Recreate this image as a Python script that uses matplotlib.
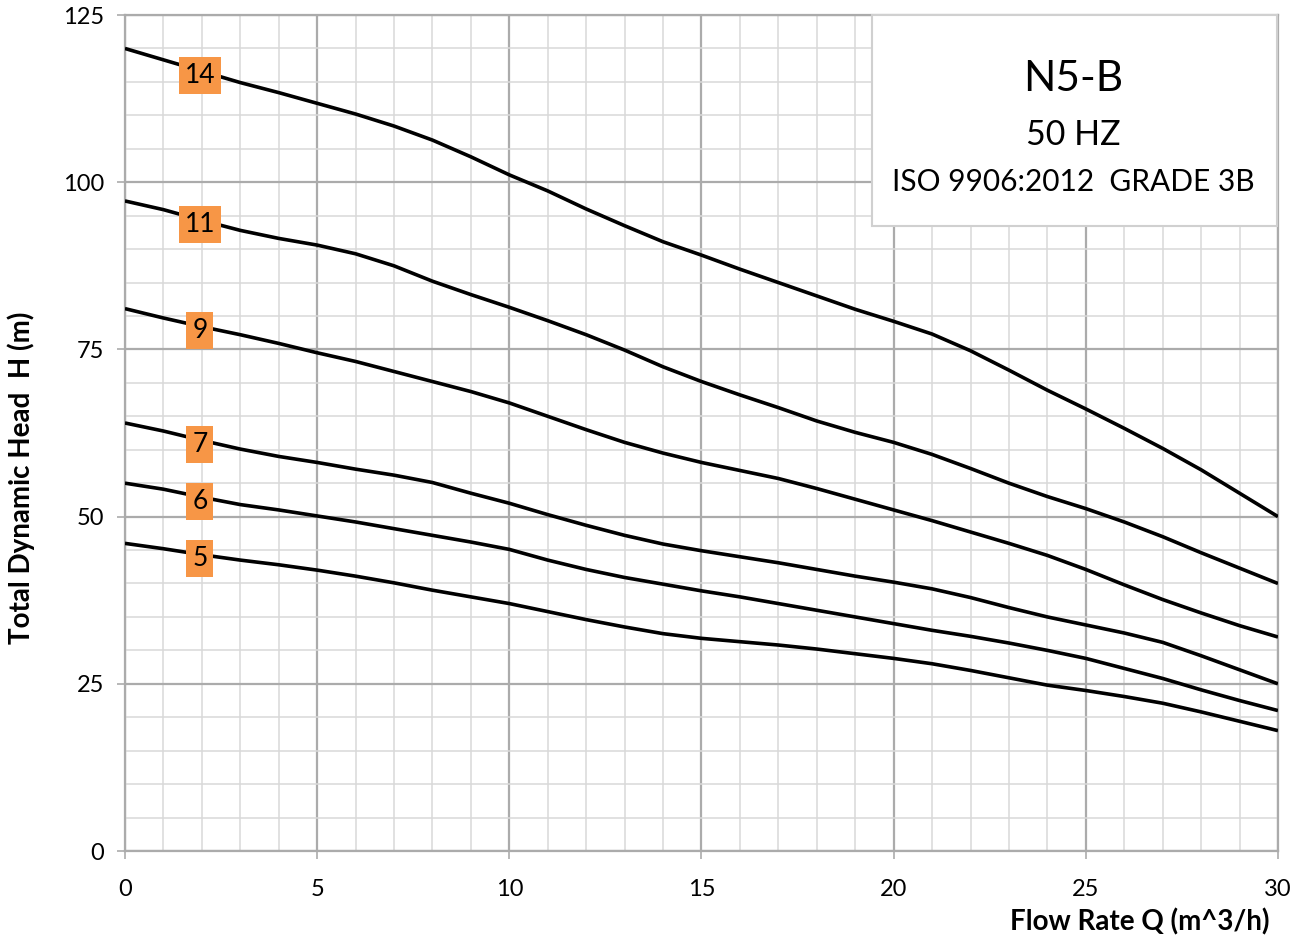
"""Pump performance curves N5-B, 50 Hz: total dynamic head vs flow rate."""

import matplotlib
matplotlib.use("Agg")
import matplotlib.pyplot as plt
from matplotlib.ticker import MultipleLocator

plt.rcParams["font.family"] = ["Lato", "DejaVu Sans"]

# --- Data (flow in m^3/h, head in m) ---
flow = [0, 1, 2, 3, 4, 5, 6, 7, 8, 9, 10, 11, 12, 13, 14, 15,
        16, 17, 18, 19, 20, 21, 22, 23, 24, 25, 26, 27, 28, 29, 30]

head_14 = [120.0, 118.3, 116.6, 114.9, 113.4, 111.8, 110.2, 108.4, 106.3, 103.8,
           101.1, 98.7, 96.0, 93.5, 91.1, 89.1, 87.0, 85.0, 83.0, 81.0,
           79.2, 77.3, 74.8, 71.9, 68.9, 66.1, 63.2, 60.2, 57.0, 53.5, 50.0]
head_11 = [97.2, 95.9, 94.3, 92.8, 91.6, 90.6, 89.3, 87.5, 85.2, 83.2,
           81.3, 79.3, 77.2, 74.9, 72.4, 70.2, 68.2, 66.3, 64.3, 62.6,
           61.1, 59.3, 57.2, 55.0, 53.0, 51.2, 49.2, 47.0, 44.6, 42.3, 40.0]
head_9 = [81.1, 79.7, 78.4, 77.2, 75.9, 74.5, 73.2, 71.7, 70.2, 68.7,
          67.0, 65.0, 63.0, 61.1, 59.5, 58.1, 56.9, 55.7, 54.2, 52.6,
          51.0, 49.4, 47.7, 46.0, 44.2, 42.1, 39.8, 37.6, 35.6, 33.7, 32.0]
head_7 = [64.0, 62.8, 61.4, 60.1, 59.0, 58.1, 57.1, 56.2, 55.1, 53.5,
          52.0, 50.3, 48.7, 47.2, 45.9, 44.9, 44.0, 43.1, 42.1, 41.1,
          40.2, 39.2, 37.9, 36.4, 35.0, 33.8, 32.6, 31.2, 29.2, 27.1, 25.0]
head_6 = [55.0, 54.1, 52.9, 51.8, 51.0, 50.1, 49.2, 48.2, 47.2, 46.2,
          45.1, 43.5, 42.1, 40.9, 39.9, 38.9, 38.0, 37.0, 36.0, 35.0,
          34.0, 33.0, 32.1, 31.1, 30.0, 28.8, 27.3, 25.8, 24.1, 22.5, 21.0]
head_5 = [46.0, 45.2, 44.3, 43.5, 42.8, 42.0, 41.1, 40.1, 39.0, 38.0,
          37.0, 35.8, 34.6, 33.5, 32.5, 31.8, 31.3, 30.8, 30.2, 29.5,
          28.8, 28.0, 27.0, 25.9, 24.8, 24.0, 23.1, 22.1, 20.8, 19.4, 18.0]

stages = ["14", "11", "9", "7", "6", "5"]
curves = [head_14, head_11, head_9, head_7, head_6, head_5]
label_flow = 2  # stage tags sit on each curve at Q = 2

title_lines = ["N5-B", "50 HZ", "ISO 9906:2012  GRADE 3B"]

# --- Plot ---
fig = plt.figure(figsize=(13.03, 9.39), dpi=100)
ax = fig.add_axes([0.0959, 0.0937, 0.8849, 0.8903])

for name, h in zip(stages, curves):
    ax.plot(flow, h, color="black", linewidth=2.6, solid_capstyle="butt",
            zorder=3)
    ax.text(label_flow - 0.05, h[flow.index(label_flow)] - 0.6, name,
            fontsize=19, ha="center", va="center", zorder=5,
            bbox=dict(boxstyle="square,pad=0.22", facecolor="#F79646",
                      edgecolor="none"))

ax.set_xlim(0, 30)
ax.set_ylim(0, 125)
ax.xaxis.set_major_locator(MultipleLocator(5))
ax.xaxis.set_minor_locator(MultipleLocator(1))
ax.yaxis.set_major_locator(MultipleLocator(25))
ax.yaxis.set_minor_locator(MultipleLocator(5))

ax.grid(which="minor", color="#D9D9D9", linewidth=1.1, zorder=0)
ax.grid(which="major", color="#ABABAB", linewidth=1.6, zorder=1)
ax.set_axisbelow(True)

for s in ax.spines.values():
    s.set_color("#ABABAB")
    s.set_linewidth(1.6)

ax.tick_params(which="major", direction="out", length=6, width=1.2,
               color="#ABABAB", labelsize=17, pad=9)
ax.tick_params(which="minor", length=0)
ax.tick_params(axis="x", pad=14)

fig.text(0.974, 0.004, "Flow Rate Q (m^3/h)", fontsize=20,
         fontweight="bold", ha="right", va="bottom")
fig.text(0.016, 0.491, "Total Dynamic Head  H (m)", fontsize=20,
         fontweight="bold", ha="center", va="center", rotation=90)

# --- Title box in the upper right corner ---
box = plt.Rectangle((0.6692, 0.7593), 0.3108, 0.2247, transform=fig.transFigure,
                    facecolor="white", edgecolor="#D0D0D0", linewidth=1.5,
                    zorder=10)
fig.patches.append(box)
fig.text(0.8239, 0.916, title_lines[0], fontsize=30.5, ha="center",
         va="center", zorder=11)
fig.text(0.8239, 0.856, title_lines[1], fontsize=24.5, ha="center",
         va="center", zorder=11)
fig.text(0.8239, 0.806, title_lines[2], fontsize=21.5, ha="center",
         va="center", zorder=11)

fig.savefig("out.png", dpi=100)
plt.close(fig)
